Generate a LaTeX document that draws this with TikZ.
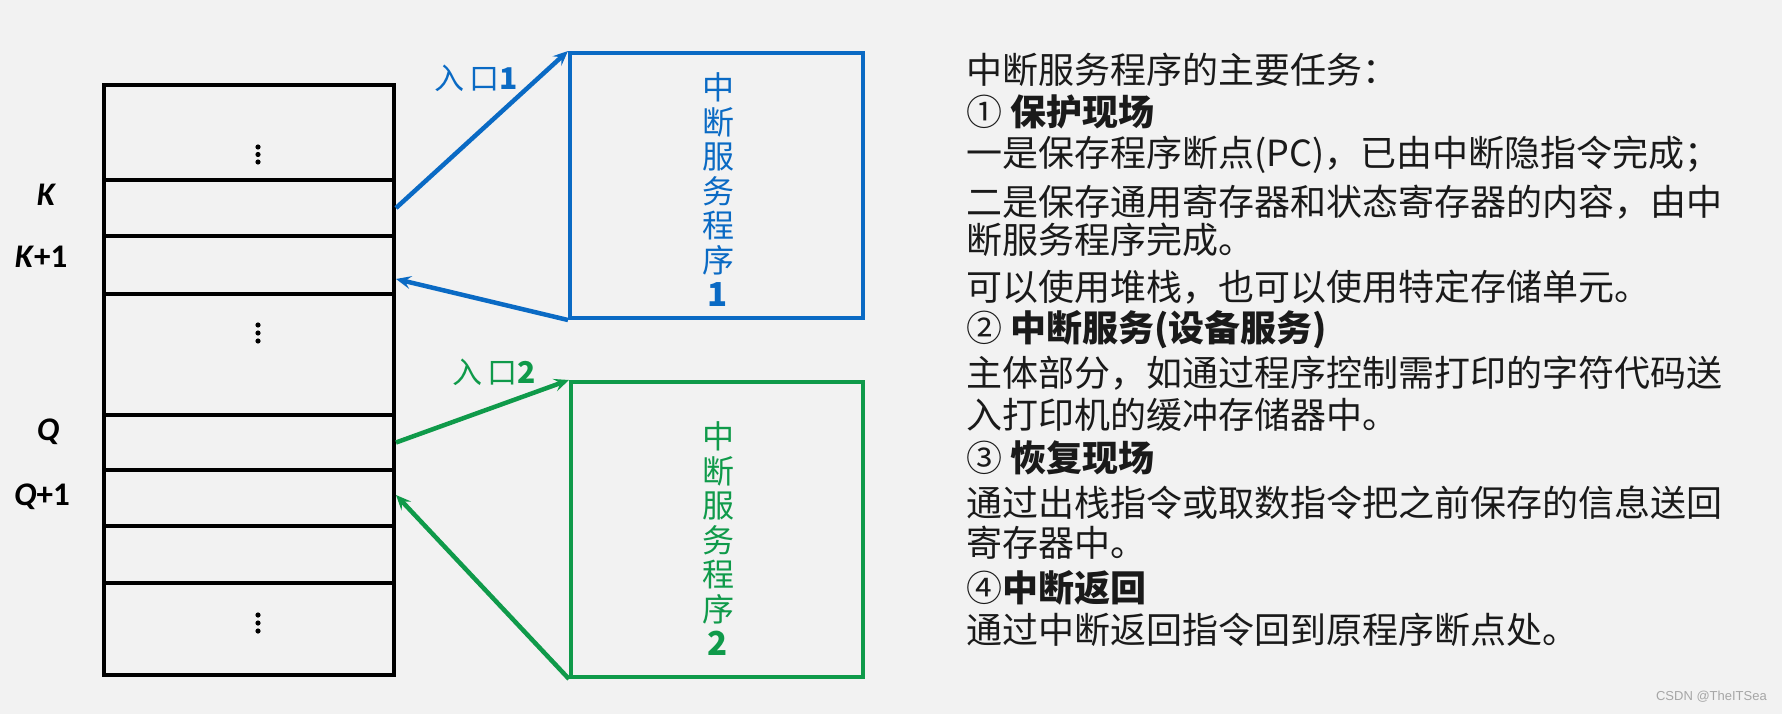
\documentclass[tikz,border=0pt]{standalone}
\usepackage{fontspec}
\setmainfont{Carlito}
\newfontfamily\cjk{Noto Sans CJK SC}
\newfontfamily\wmfont{Liberation Sans}
\usetikzlibrary{arrows.meta,calc}
\definecolor{bg}{HTML}{F2F2F2}
\definecolor{pblue}{HTML}{0A6AC4}
\definecolor{pgreen}{HTML}{0F9A4A}
\definecolor{txt}{HTML}{1A1A1A}
\tikzset{
  cell/.style={draw=black, line width=4pt, minimum width=290pt, inner sep=0pt, anchor=north west},
  progbox/.style={line width=4pt, inner sep=0pt, anchor=north west},
  link/.style={line width=4.5pt, -{Stealth[length=15pt,width=13pt,inset=6pt]}},
  addr/.style={font=\fontsize{33}{33}\selectfont\bfseries, text=black, inner sep=0pt},
  entry/.style={font=\cjk\fontsize{30}{30}\selectfont, inner sep=0pt},
  vtext/.style={align=center, inner sep=0pt, font=\cjk\fontsize{32}{34.5}\selectfont},
  line/.style={anchor=west, inner sep=0pt, text=txt, font=\cjk\fontsize{36}{36}\selectfont},
}
\begin{document}
\begin{tikzpicture}[x=1pt,y=-1pt]
\useasboundingbox (0,0) rectangle (1782,714);
\fill[bg] (0,0) rectangle (1782,714);
% memory table
\node[cell, minimum height=95pt] (rowA) at (102,83) {};
\node[cell, minimum height=56pt] (rowK) at (102,178) {};
\node[cell, minimum height=58pt] (rowK1) at (102,234) {};
\node[cell, minimum height=121pt] (rowB) at (102,292) {};
\node[cell, minimum height=55pt] (rowQ) at (102,413) {};
\node[cell, minimum height=56pt] (rowQ1) at (102,468) {};
\node[cell, minimum height=57pt] (rowC) at (102,524) {};
\node[cell, minimum height=92pt] (rowD) at (102,581) {};
% dots
\foreach \y in {147,154.5,162,325,333,341,615,623,631}
  \fill (258,\y) circle (2.6pt);
% address labels
\node[addr] (lK) at (46,195) {\itshape K};
\node[addr] (lK1) at (41,257) {\textit{K}+1};
\node[addr] (lQ) at (48,432) {\itshape Q};
\node[addr] (lQ1) at (42,497) {\textit{Q}+1};
% service routine boxes
\node[progbox, draw=pblue, minimum width=293pt, minimum height=265pt] (box1) at (568,51) {};
\node[progbox, draw=pgreen, minimum width=292pt, minimum height=295pt] (box2) at (569,380) {};
\node[vtext, text=pblue] (t1) at (718,190) {中\\断\\服\\务\\程\\序\\{\fontsize{33}{34.5}\selectfont\bfseries 1}};
\node[vtext, text=pgreen] (t2) at (718,539) {中\\断\\服\\务\\程\\序\\{\fontsize{33}{34.5}\selectfont\bfseries 2}};
% connectors
\draw[link, pblue] (rowK.east) -- (box1.north west);
\draw[link, pblue] (box1.south west) -- ($(rowK1.east)+(0,14)$);
\draw[link, pgreen] (rowQ.east) -- (box2.north west);
\draw[link, pgreen] (box2.south west) -- ($(rowQ1.east)+(0,-3)$);
\node[entry, text=pblue] (e1) at (476,78) {入\hspace{5pt}口\textbf{1}};
\node[entry, text=pgreen] (e2) at (494,372) {入\hspace{5pt}口\textbf{2}};
% right text
\node[line] (r1) at (966,70) {中断服务程序的主要任务：};
\node[line] (r2) at (966,112) {① {\bfseries 保护现场}};
\node[line] (r3) at (966,155) {一是保存程序断点(PC)，已由中断隐指令完成；};
\node[line] (r4) at (966,202) {二是保存通用寄存器和状态寄存器的内容，由中};
\node[line] (r5) at (966,240) {断服务程序完成。};
\node[line] (r6) at (966,287) {可以使用堆栈，也可以使用特定存储单元。};
\node[line] (r7) at (966,330) {② {\bfseries 中断服务(设备服务)}};
\node[line] (r8) at (966,373) {主体部分，如通过程序控制需打印的字符代码送};
\node[line] (r9) at (966,415) {入打印机的缓冲存储器中。};
\node[line] (r10) at (966,458) {③ {\bfseries 恢复现场}};
\node[line] (r11) at (966,503) {通过出栈指令或取数指令把之前保存的信息送回};
\node[line] (r12) at (966,543) {寄存器中。};
\node[line] (r13) at (966,588) {④{\bfseries 中断返回}};
\node[line] (r14) at (966,630) {通过中断返回指令回到原程序断点处。};
\node[anchor=east, inner sep=0pt, text=black!35, font=\wmfont\fontsize{13}{13}\selectfont] (wm) at (1767,697) {CSDN @TheITSea};
\end{tikzpicture}
\end{document}
